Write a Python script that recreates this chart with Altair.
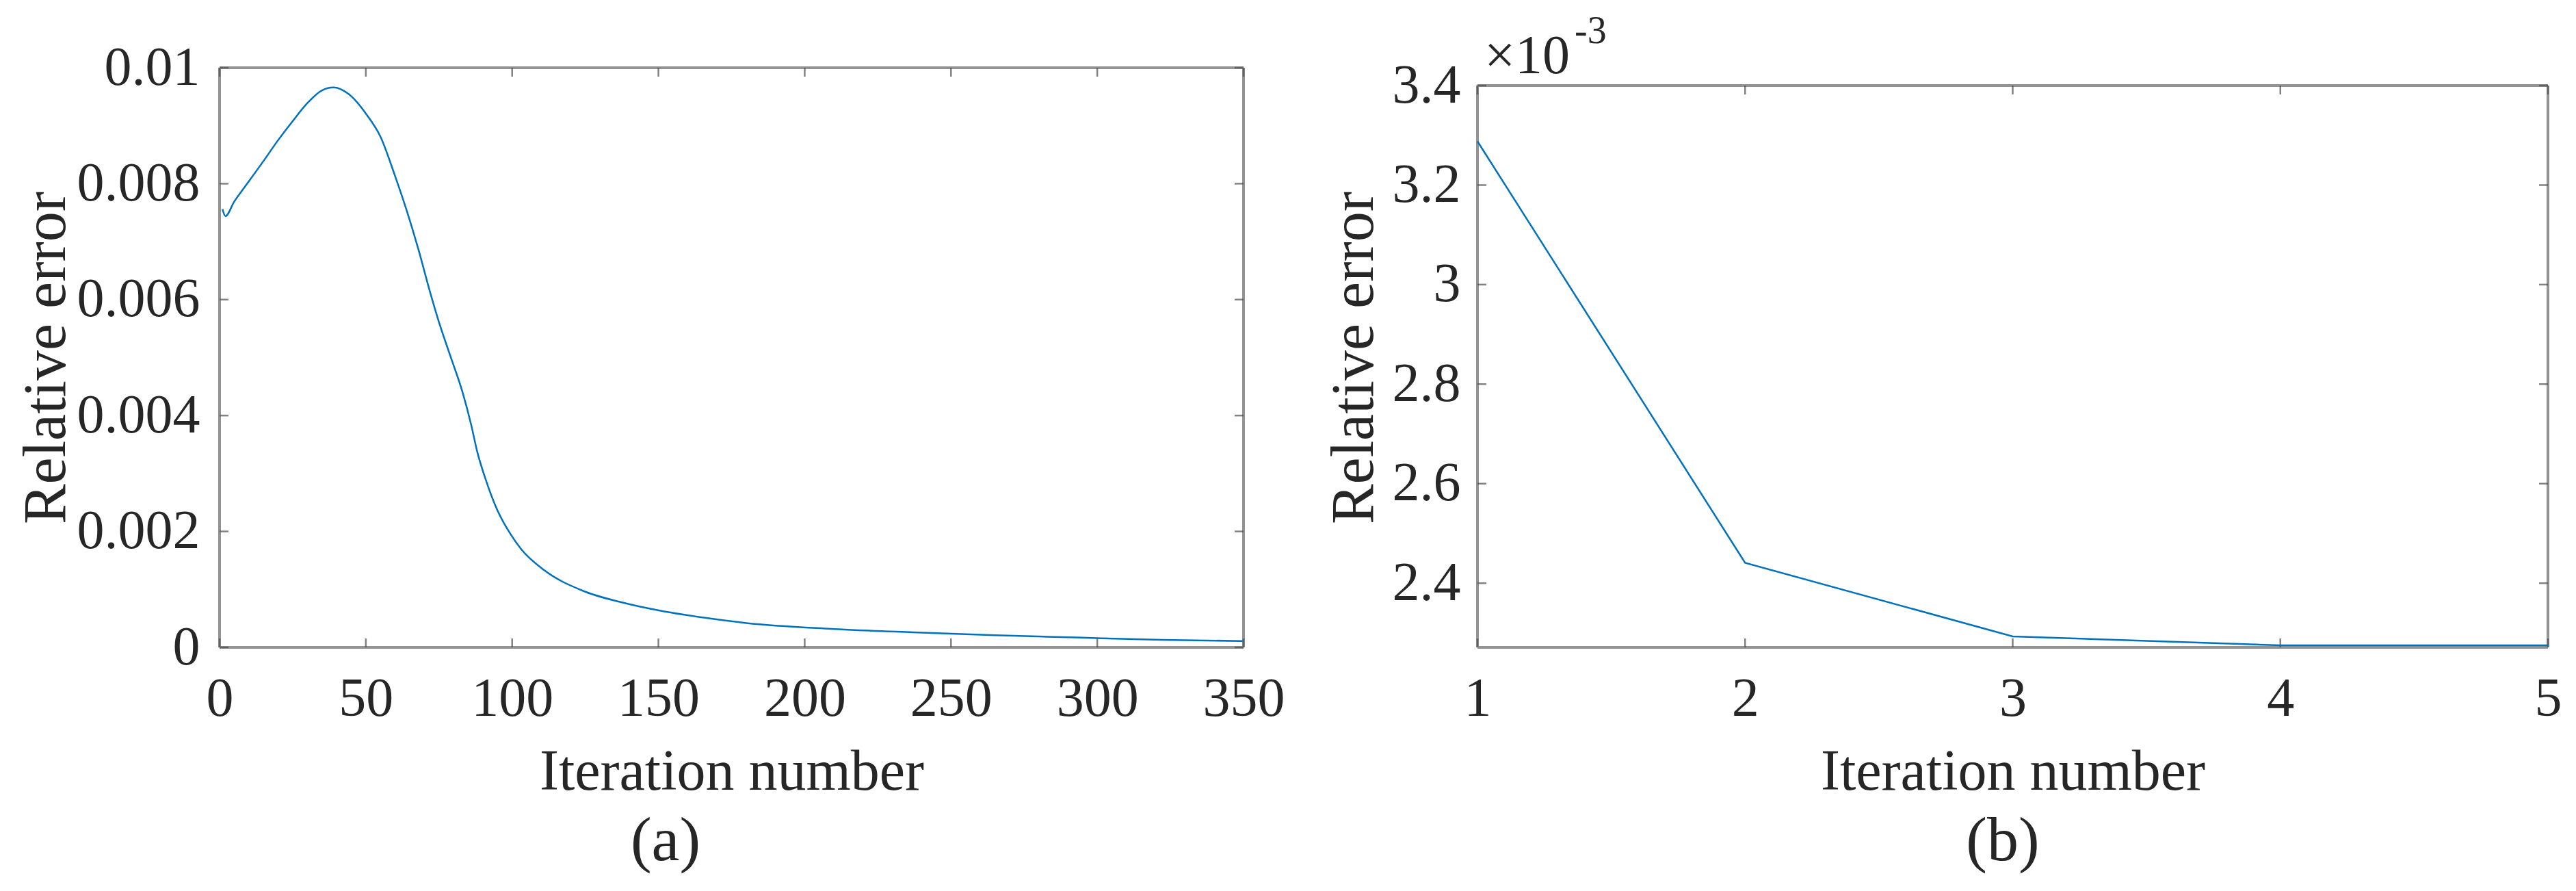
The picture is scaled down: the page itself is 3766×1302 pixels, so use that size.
import altair as alt
import pandas as pd

# ---------------- data ----------------
# panel (a)
iter_a = [1, 2, 5, 10, 15, 20, 25, 30, 35, 39, 44, 50, 55, 60, 64, 68, 72, 75, 79, 83,
          86, 88, 91, 95, 99, 103, 111, 124, 138, 152, 166, 180, 209, 237, 265, 293, 322, 350]
err_a = [0.00756, 0.00744, 0.00769, 0.00804, 0.00839, 0.00875, 0.00908, 0.00939, 0.00961, 0.00966,
         0.00955, 0.00921, 0.00881, 0.00813, 0.00753, 0.00686, 0.00612, 0.00561, 0.00501, 0.00441,
         0.00384, 0.00339, 0.00289, 0.00236, 0.00199, 0.00170, 0.00133, 0.00098, 0.00077, 0.00062,
         0.00051, 0.00042, 0.00032, 0.00026, 0.00021, 0.00017, 0.00013, 0.00011]
# panel (b), values in units of 10^-3
iter_b = [1, 2, 3, 4, 5]
err_b = [3.288, 2.441, 2.293, 2.275, 2.275]

xticks_a = [0, 50, 100, 150, 200, 250, 300, 350]
yticks_a = [0, 0.002, 0.004, 0.006, 0.008, 0.01]
xticks_b = [1, 2, 3, 4, 5]
yticks_b = [2.4, 2.6, 2.8, 3.0, 3.2, 3.4]

x_title = "Iteration number"
y_title = "Relative error"
captions = ["(a)", "(b)"]
multiplier = ["\u00d710", "-3"]

# domains
XA = (0, 350)
YA = (0, 0.01)
YA_TOP = 0.01
XB = (1, 5)
YB = (2.271, 3.4358)
YB_TOP = 3.4

# ---------------- style ----------------
FONT = "Liberation Serif"
TXT = "#262626"
LINE = "#0072BD"
FRAME = "#939393"
TICK = "#4d4d4d"
H = 847
W_A = 1497
W_B = 1565


def panel(xs, ys, xdom, ydom, ytop, xticks, yticks, W, lab_pad_y, title_x_y, caption, cap_x,
          interp="linear", extra=None):
    df = pd.DataFrame({"it": xs, "err": ys})
    xscale = alt.Scale(domain=list(xdom), nice=False, zero=False)
    yscale = alt.Scale(domain=list(ydom), nice=False, zero=False)

    def X(f, **kw):
        return alt.X(f, scale=xscale, title=x_title, **kw)

    def Y(f, **kw):
        return alt.Y(f, scale=yscale, title=y_title, **kw)

    x0, x1 = xdom
    y0 = ydom[0]
    frame_df = pd.DataFrame({
        "x": [x0, x0, x1, x0],
        "x2": [x1, x0, x1, x1],
        "y": [ytop, y0, y0, y0],
        "y2": [ytop, ytop, ytop, y0],
    })
    frame = alt.Chart(frame_df).mark_rule(color=FRAME, strokeWidth=4).encode(
        x=X("x:Q", axis=alt.Axis(values=xticks, format="d", labelPadding=36,
                                 labelFlush=False, labelOverlap=False, labelBound=False,
                                 labelLimit=600,
                                 titleX=W / 2, titleY=207, titleBaseline="alphabetic",
                                 titleAlign="center", titleFontSize=84)),
        x2="x2:Q",
        y=Y("y:Q", axis=alt.Axis(values=yticks, format="~g",
                                 labelPadding=lab_pad_y, labelFlush=False, labelOverlap=False,
                                 labelLimit=600,
                                 titleX=title_x_y, titleY=H / 2, titleAngle=270,
                                 titleBaseline="alphabetic", titleAlign="center",
                                 titleFontSize=88)),
        y2="y2:Q",
    )

    yt_df = pd.DataFrame({"v": yticks, "xl": [x0] * len(yticks), "xr": [x1] * len(yticks)})
    xt_df = pd.DataFrame({"v": xticks, "yb": [y0] * len(xticks), "yt": [ytop] * len(xticks)})
    ytl = alt.Chart(yt_df).mark_tick(orient="horizontal", size=13, thickness=2.5,
                                     color=TICK, xOffset=6.5).encode(x=X("xl:Q"), y=Y("v:Q"))
    ytr = alt.Chart(yt_df).mark_tick(orient="horizontal", size=13, thickness=2.5,
                                     color=TICK, xOffset=-6.5).encode(x=X("xr:Q"), y=Y("v:Q"))
    xtb = alt.Chart(xt_df).mark_tick(orient="vertical", size=13, thickness=2.5,
                                     color=TICK, yOffset=-6.5).encode(x=X("v:Q"), y=Y("yb:Q"))
    xtt = alt.Chart(xt_df).mark_tick(orient="vertical", size=13, thickness=2.5,
                                     color=TICK, yOffset=6.5).encode(x=X("v:Q"), y=Y("yt:Q"))

    line = alt.Chart(df).mark_line(color=LINE, strokeWidth=2.5, interpolate=interp).encode(
        x=X("it:Q"), y=Y("err:Q"))

    cap = alt.Chart(pd.DataFrame({"t": [caption]})).mark_text(
        font=FONT, fontSize=92, color=TXT, align="center", baseline="alphabetic"
    ).encode(x=alt.value(cap_x), y=alt.value(1158), text="t:N")

    layers = [frame, ytl, ytr, xtb, xtt, line, cap]
    if extra is not None:
        layers += extra
    return alt.layer(*layers).properties(width=W, height=H)


mult_main = alt.Chart(pd.DataFrame({"t": [multiplier[0]]})).mark_text(
    font=FONT, fontSize=80, color=TXT, align="left", baseline="alphabetic"
).encode(x=alt.value(10), y=alt.value(8), text="t:N")
mult_exp = alt.Chart(pd.DataFrame({"t": [multiplier[1]]})).mark_text(
    font=FONT, fontSize=56, color=TXT, align="left", baseline="alphabetic"
).encode(x=alt.value(142), y=alt.value(-36), text="t:N")

pa = panel(iter_a, err_a, XA, YA, YA_TOP, xticks_a, yticks_a, W_A, 29, -227, captions[0], 652,
           interp="monotone")
pb = panel(iter_b, err_b, XB, YB, YB_TOP, xticks_b, yticks_b, W_B, 25, -154, captions[1], 768,
           extra=[mult_main, mult_exp])

chart = alt.hconcat(pa, pb, spacing=342, bounds="flush").properties(
    padding={"left": 16, "top": 10, "right": 0, "bottom": 12},
    background="white",
).configure_view(stroke=None).configure_axis(
    domain=False, ticks=False, tickSize=0, grid=False,
    labelFont=FONT, labelFontSize=80, labelColor=TXT,
    titleFont=FONT, titleFontWeight="normal", titleColor=TXT,
)

chart.save("out.html", embed_options={"renderer": "svg", "actions": False})
